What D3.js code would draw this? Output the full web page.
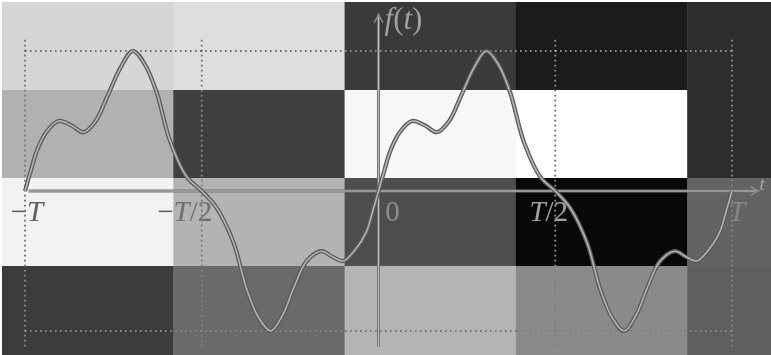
<!DOCTYPE html>
<html>
<head>
<meta charset="utf-8">
<script src="https://cdn.jsdelivr.net/npm/d3@7"></script>
<style>
  html, body { margin: 0; padding: 0; background: #fff; }
  svg { display: block; }
  text { font-family: "Liberation Serif", "DejaVu Serif", serif; }
</style>
</head>
<body>
<svg id="chart" width="771" height="355"></svg>
<script>
// background shades, one row per band (grey level 0..255)
var shadeRow0 = [214, 222, 58, 27, 45];
var shadeRow1 = [177, 63, 247, 255, 45];
var shadeRow2 = [242, 179, 78, 8, 99];
var shadeRow3 = [60, 106, 180, 138, 95];
var shades = [shadeRow0, shadeRow1, shadeRow2, shadeRow3];

// one period of f(t), t in units of T
var tPeriod = [0, 0.017, 0.034, 0.06, 0.095, 0.13, 0.166, 0.2, 0.232, 0.27, 0.305, 0.34, 0.373, 0.41, 0.458, 0.5,
               0.542, 0.59, 0.627, 0.66, 0.695, 0.73, 0.759, 0.797, 0.839, 0.87, 0.9, 0.934, 0.966, 0.983, 1];
var fPeriod = [0, 0.15, 0.29, 0.42, 0.50, 0.47, 0.42, 0.50, 0.67, 0.88, 1.0, 0.90, 0.70, 0.36, 0.10, 0,
               -0.12, -0.37, -0.70, -0.90, -1.0, -0.88, -0.70, -0.50, -0.43, -0.47, -0.50, -0.42, -0.29, -0.15, 0];
var periodStarts = [-1, 0];

// tick positions (units of T) and their labels
var tickT = [-1, -0.5, 0, 0.5, 1];
var tickLabels = [["−", "T", ""], ["−", "T", "/2"], ["", "", "0"], ["", "T", "/2"], ["", "T", ""]];

var W = 771, H = 355;
var svg = d3.select("#chart");

// background grid (not tied to the data)
var gx = d3.scaleLinear().domain([0, 1]).range([2, 173.3]);
var gy = d3.scaleLinear().domain([0, 1]).range([2, 90]);
var cells = [];
shades.forEach(function(row, r) {
    row.forEach(function(v, c) { cells.push({r: r, c: c, v: v}); });
});
svg.append("g").selectAll("rect")
    .data(cells)
    .enter().append("rect")
    .attr("x", function(d) { return gx(d.c); })
    .attr("y", function(d) { return gy(d.r); })
    .attr("width", function(d) { return Math.min(gx(d.c + 1), W) - gx(d.c) + 0.5; })
    .attr("height", function(d) { return (d.r === shades.length - 1 ? H : gy(d.r + 1)) - gy(d.r) + 0.5; })
    .attr("fill", function(d) { return d3.rgb(d.v, d.v, d.v); });

// plot scales
var x = d3.scaleLinear().domain([-1, 1]).range([25, 732]);
var y = d3.scaleLinear().domain([-1, 1]).range([331, 51]);

// dotted guides
var dots = svg.append("g")
    .attr("fill", "none")
    .attr("stroke", "#fff")
    .attr("stroke-opacity", 0.6)
    .style("mix-blend-mode", "difference")
    .attr("stroke-width", 1.8)
    .attr("stroke-dasharray", "1.6,3.4");
dots.selectAll("line.v")
    .data(tickT.filter(function(t) { return t !== 0; }))
    .enter().append("line")
    .attr("class", "v")
    .attr("x1", function(d) { return x(d); }).attr("x2", function(d) { return x(d); })
    .attr("y1", y(1.08)).attr("y2", y(-1.11));
dots.selectAll("line.h")
    .data([1, -1])
    .enter().append("line")
    .attr("class", "h")
    .attr("x1", x(-1)).attr("x2", x(1))
    .attr("y1", function(d) { return y(d); }).attr("y2", function(d) { return y(d); });

// axes
function axisLine(g, x1, y1, x2, y2) {
    g.append("line").attr("x1", x1).attr("y1", y1).attr("x2", x2).attr("y2", y2)
        .attr("stroke", "#737373").attr("stroke-width", 3);
    g.append("line").attr("x1", x1).attr("y1", y1).attr("x2", x2).attr("y2", y2)
        .attr("stroke", "#d0d0d0").attr("stroke-width", 0.8);
}
var axes = svg.append("g");
axisLine(axes, x(-0.99), y(0), x(1.072), y(0));
axisLine(axes, x(0), y(-1.11), x(0), y(1.255));

// arrow heads (latex-ish open chevrons)
axes.append("path")
    .attr("d", "M -8,-4.5 Q -3,-1 0,0 Q -3,1 -8,4.5")
    .attr("transform", "translate(" + x(1.075) + "," + y(0) + ")")
    .attr("fill", "none").attr("stroke", "#8a8a8a").attr("stroke-width", 1.6);
axes.append("path")
    .attr("d", "M -8,-4.5 Q -3,-1 0,0 Q -3,1 -8,4.5")
    .attr("transform", "translate(" + x(0) + "," + y(1.26) + ") rotate(-90)")
    .attr("fill", "none").attr("stroke", "#8a8a8a").attr("stroke-width", 1.6);

// the curve, drawn once per period
var line = d3.line()
    .x(function(d) { return x(d[0]); })
    .y(function(d) { return y(d[1]); })
    .curve(d3.curveCatmullRom.alpha(0.5));
var curve = svg.append("g").attr("fill", "none");
periodStarts.forEach(function(p0) {
    var pts = tPeriod.map(function(t, i) { return [p0 + t, fPeriod[i]]; });
    curve.append("path").attr("d", line(pts))
        .attr("stroke", "#5a5a5a").attr("stroke-width", 4.2);
    curve.append("path").attr("d", line(pts))
        .attr("stroke", "#b4b4b4").attr("stroke-width", 1.6);
});

// tick labels
var labelDx = [2, -17, 14, -6.5, 5];
var labels = svg.append("g")
    .attr("fill", "#fff")
    .attr("fill-opacity", 0.65)
    .style("mix-blend-mode", "difference")
    .attr("font-size", 29)
    .attr("text-anchor", "middle");
tickT.forEach(function(t, i) {
    var lab = tickLabels[i];
    var txt = labels.append("text")
        .attr("x", x(t) + labelDx[i])
        .attr("y", y(0) + 30);
    if (lab[0]) txt.append("tspan").text(lab[0]);
    if (lab[1]) txt.append("tspan").attr("font-style", "italic").text(lab[1]);
    if (lab[2]) txt.append("tspan").text(lab[2]);
});

// axis names
var fl = svg.append("text")
    .attr("x", x(0) + 6).attr("y", y(1.16))
    .attr("font-size", 31).attr("fill", "#a0a0a0");
fl.append("tspan").attr("font-style", "italic").text("f");
fl.append("tspan").text("(");
fl.append("tspan").attr("font-style", "italic").text("t");
fl.append("tspan").text(")");

svg.append("text")
    .attr("x", x(1.078)).attr("y", y(0.005))
    .attr("font-size", 19).attr("font-style", "italic")
    .attr("fill", "#a8a8a8")
    .text("t");
</script>
</body>
</html>
